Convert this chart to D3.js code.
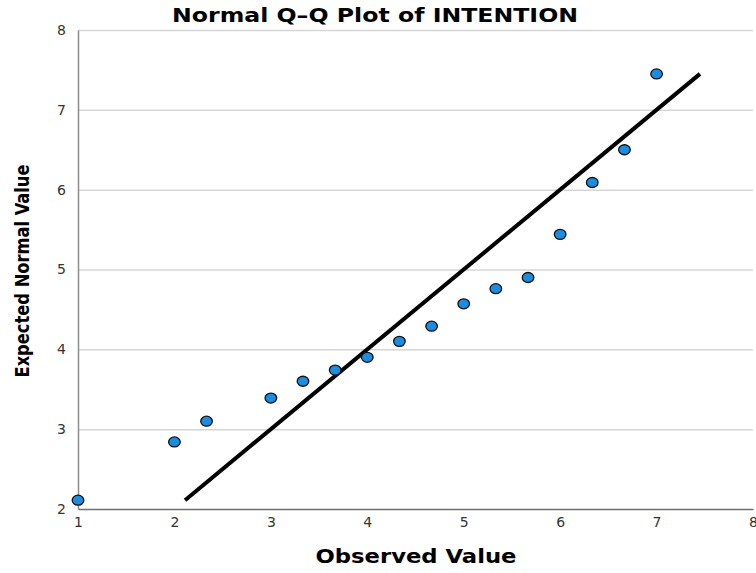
<!DOCTYPE html>
<html>
<head>
<meta charset="utf-8">
<script src="https://cdn.jsdelivr.net/npm/d3@7"></script>
<style>
  body { margin: 0; background: #fff; }
  text { font-family: "DejaVu Sans", sans-serif; }
</style>
</head>
<body>
<svg id="mainSvg" width="756" height="573"></svg>
<script>
// observed values and their expected normal values
var observed = [1, 2, 2.333, 3, 3.333, 3.667, 4, 4.333, 4.667, 5, 5.333, 5.667, 6, 6.333, 6.667, 7];
var expected = [2.11, 2.84, 3.10, 3.39, 3.60, 3.74, 3.90, 4.10, 4.29, 4.57, 4.76, 4.90, 5.44, 6.09, 6.50, 7.45];
var refLine = [2.11, 7.45];
var xTicks = [1, 2, 3, 4, 5, 6, 7, 8];
var yTicks = [2, 3, 4, 5, 6, 7, 8];

var margin = {top: 30, right: 3, bottom: 64, left: 78},
    width = 756 - margin.left - margin.right,
    height = 573 - margin.top - margin.bottom;

var x = d3.scaleLinear().domain([1, 8]).range([0, width]);
var y = d3.scaleLinear().domain([2, 8]).range([height, 0]);

var svg = d3.select("#mainSvg");
var g = svg.append("g")
  .attr("transform", "translate(" + margin.left + "," + margin.top + ")");

// gridlines
g.append("g")
  .call(d3.axisLeft(y).tickValues(yTicks.slice(1)).tickSize(-width).tickFormat(""))
  .call(function(s) {
    s.select(".domain").remove();
    s.selectAll("line").attr("stroke", "#d6d6d6").attr("stroke-width", 1.5);
  });

// y axis
g.append("g")
  .call(d3.axisLeft(y).tickValues(yTicks).tickFormat(d3.format("d")).tickSize(0).tickPadding(12))
  .call(function(s) {
    s.select(".domain").attr("stroke", "#8c8c8c").attr("stroke-width", 1.5);
    s.selectAll("text").attr("fill", "#333").style("font-size", "14px");
  });

// x axis
g.append("g")
  .attr("transform", "translate(0," + height + ")")
  .call(d3.axisBottom(x).tickValues(xTicks).tickFormat(d3.format("d")).tickSize(0).tickPadding(8))
  .call(function(s) {
    s.select(".domain").attr("stroke", "#6e6e6e").attr("stroke-width", 1.5);
    s.selectAll("text").attr("fill", "#333").style("font-size", "14px");
  });

// reference line
g.append("line")
  .attr("x1", x(refLine[0])).attr("y1", y(refLine[0]))
  .attr("x2", x(refLine[1])).attr("y2", y(refLine[1]))
  .attr("stroke", "#000").attr("stroke-width", 4);

// points
g.selectAll(".pt")
  .data(observed)
  .enter().append("ellipse")
  .attr("class", "pt")
  .attr("cx", function(d) { return x(d); })
  .attr("cy", function(d, i) { return y(expected[i]); })
  .attr("rx", 5.8).attr("ry", 5)
  .attr("fill", "#1a8de0")
  .attr("stroke", "#111").attr("stroke-width", 1.3);

// title
svg.append("text")
  .attr("x", 375).attr("y", 22)
  .attr("text-anchor", "middle")
  .style("font-size", "19px").style("font-weight", "bold")
  .attr("textLength", 406).attr("lengthAdjust", "spacingAndGlyphs")
  .text("Normal Q\u2013Q Plot of INTENTION");

// x label
svg.append("text")
  .attr("x", 416).attr("y", 563)
  .attr("text-anchor", "middle")
  .style("font-size", "19px").style("font-weight", "bold")
  .attr("textLength", 201).attr("lengthAdjust", "spacingAndGlyphs")
  .text("Observed Value");

// y label
svg.append("text")
  .attr("transform", "translate(29,271) rotate(-90)")
  .attr("text-anchor", "middle")
  .style("font-family", "'DejaVu Sans Condensed', 'DejaVu Sans', sans-serif")
  .style("font-size", "20px").style("font-weight", "bold")
  .attr("textLength", 213).attr("lengthAdjust", "spacingAndGlyphs")
  .text("Expected Normal Value");
</script>
</body>
</html>
